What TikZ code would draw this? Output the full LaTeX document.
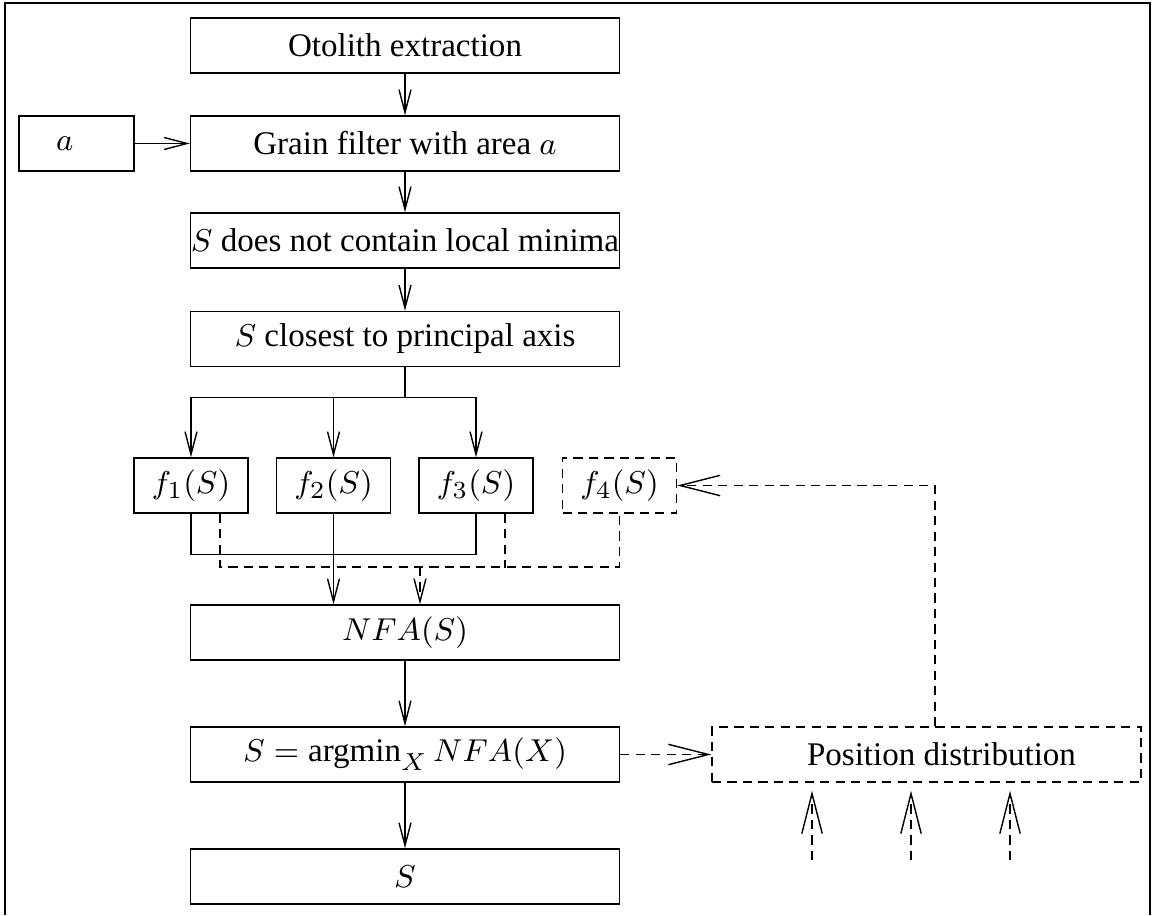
\documentclass[tikz,border=0pt]{standalone}
\usepackage[no-math]{fontspec}
\setmainfont{Liberation Serif}
\usetikzlibrary{arrows.meta,calc}

\tikzset{
	>={Straight Barb[length=6.5pt,width=3.4pt]},
	big/.style={-{Straight Barb[length=11.4pt,width=5.8pt]}},
	dashed/.style={dash pattern=on 2.6pt off 1.8pt},
	box/.style={draw, minimum width=4.29cm, minimum height=.55cm, inner sep=0pt,
		font=\fontsize{9.4}{11}\selectfont},
	fbox/.style={box, minimum width=1.14cm},
}

\begin{document}
\begin{tikzpicture}
		\useasboundingbox (0,0) rectangle (11.53,9.15);
		% Frame
		\draw[line width=.8pt] (.05,0) -- (.05,9.12) -- (11.50,9.12) -- (11.50,0);
		
		% Nodes
		\node[box] (otolith) at (4.05,8.695) {Otolith extraction};
		\node[box] (grain) at (4.05,7.715) {Grain filter with area $a$};
		\node[box, minimum width=1.15cm] (area) at (.765,7.715) {\makebox[1.15cm][l]{\hspace{.37cm}$a$}};
		\node[box] (nolocal) at (4.05,6.745) {$S$ does not contain local minima};
		\node[box] (closest) at (4.05,5.76) {$S$ closest to principal axis};
		\node[fbox] (f1) at (1.91,4.295) {$f_1(S)$};
		\node[fbox] (f2) at (3.335,4.295) {$f_2(S)$};
		\node[fbox] (f3) at (4.76,4.295) {$f_3(S)$};
		\node[fbox,dashed] (f4) at (6.195,4.295) {$f_4(S)$};
		\node[box] (nfa) at (4.05,2.825) {$NFA(S)$};
		\node[box] (argmin) at (4.05,1.605) {$S = \mathop{\mbox{argmin}}_X NFA(X)$};
		\node[box] (result) at (4.05,.385) {$S$};
		\node[box,dashed] (posdist) at (9.265,1.605) {\makebox[4.29cm][l]{\hspace{.95cm}Position distribution}};
		
		\coordinate (dj) at (4.20,3.48);
		\foreach \i/\x in {1/8.12,2/9.11,3/10.10}
			\coordinate (u\i) at (\x,.55);
		
		% Edges
		\draw[->] (otolith) -- (grain);
		\draw[->] (area) -- (grain);
		\draw[->] (grain) -- (nolocal);
		\draw[->] (nolocal) -- (closest);
		\foreach \i in {1,2,3}
			\draw[->] (closest.south) -- ++(0,-.305) -| (f\i);
		\draw (f1.south) -- ++(0,-.41) -| (f3.south);
		\draw[->] (f2.south) -- (f2.south |- nfa.north);
		\draw[dashed] ($(f1.south)!.5!(f1.south east)$) |- (f4.south |- dj) -- (f4.south);
		\draw[dashed] ($(f3.south)!.5!(f3.south east)$) -- ++(0,-.54);
		\draw[dashed,->] (dj) -- (dj |- nfa.north);
		\draw[->] (nfa) -- (argmin);
		\draw[->] (argmin) -- (result);
		
		% Position distribution
		\draw[dashed,big] (argmin) -- (posdist);
		\draw[dashed,big] ([xshift=.085cm]posdist.north) |- (f4.east);
		\foreach \i in {1,2,3}
			\draw[dashed,big,shorten >=.08cm] (u\i) -- (u\i |- posdist.south);
		
	\end{tikzpicture}
\end{document}
